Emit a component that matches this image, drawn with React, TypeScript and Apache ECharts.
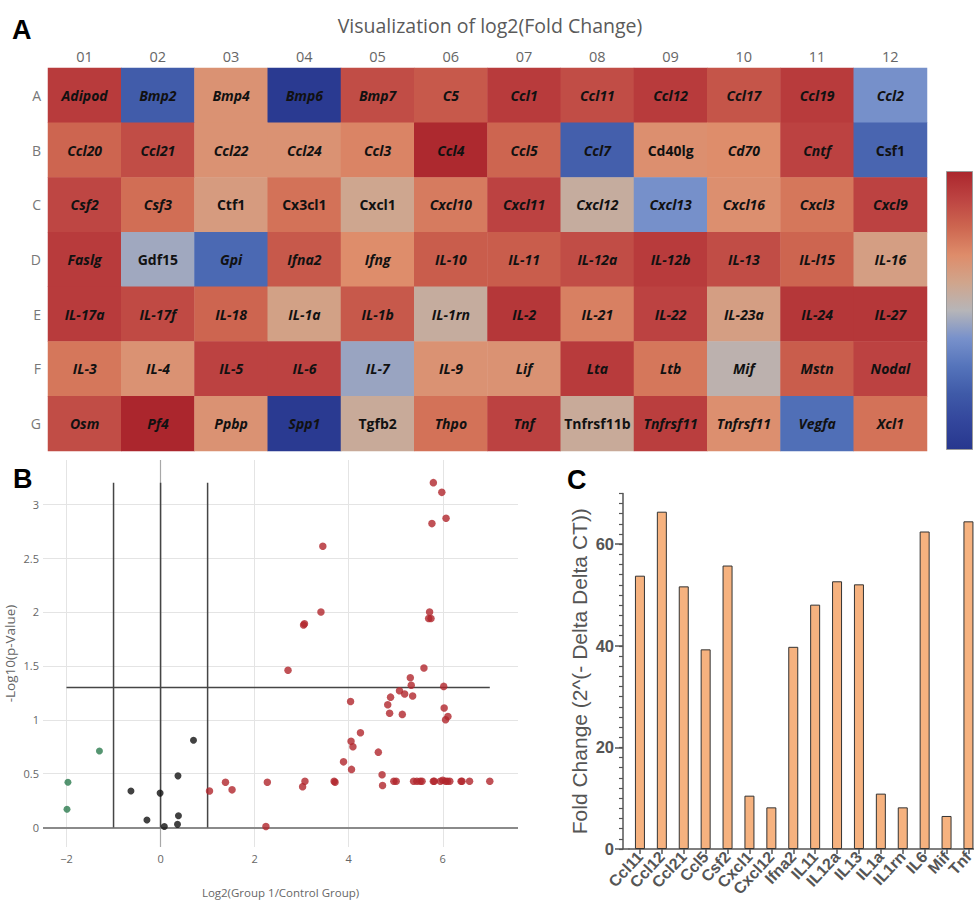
import React, { useEffect, useRef } from 'react';
import * as echarts from 'echarts';

// ---------- Panel A: heatmap data ----------
const columns = ['01', '02', '03', '04', '05', '06', '07', '08', '09', '10', '11', '12'];
const rows = ['A', 'B', 'C', 'D', 'E', 'F', 'G'];

const geneRows: string[][] = [
  ['Adipod', 'Bmp2', 'Bmp4', 'Bmp6', 'Bmp7', 'C5', 'Ccl1', 'Ccl11', 'Ccl12', 'Ccl17', 'Ccl19', 'Ccl2'],
  ['Ccl20', 'Ccl21', 'Ccl22', 'Ccl24', 'Ccl3', 'Ccl4', 'Ccl5', 'Ccl7', 'Cd40lg', 'Cd70', 'Cntf', 'Csf1'],
  ['Csf2', 'Csf3', 'Ctf1', 'Cx3cl1', 'Cxcl1', 'Cxcl10', 'Cxcl11', 'Cxcl12', 'Cxcl13', 'Cxcl16', 'Cxcl3', 'Cxcl9'],
  ['Faslg', 'Gdf15', 'Gpi', 'Ifna2', 'Ifng', 'IL-10', 'IL-11', 'IL-12a', 'IL-12b', 'IL-13', 'IL-l15', 'IL-16'],
  ['IL-17a', 'IL-17f', 'IL-18', 'IL-1a', 'IL-1b', 'IL-1rn', 'IL-2', 'IL-21', 'IL-22', 'IL-23a', 'IL-24', 'IL-27'],
  ['IL-3', 'IL-4', 'IL-5', 'IL-6', 'IL-7', 'IL-9', 'Lif', 'Lta', 'Ltb', 'Mif', 'Mstn', 'Nodal'],
  ['Osm', 'Pf4', 'Ppbp', 'Spp1', 'Tgfb2', 'Thpo', 'Tnf', 'Tnfrsf11b', 'Tnfrsf11', 'Tnfrsf11', 'Vegfa', 'Xcl1'],
];

const log2FCRowA = [6.4, 0.2, 4.2, -1.4, 5.9, 5.6, 6.4, 5.9, 6.4, 5.7, 6.4, 1.8];
const log2FCRowB = [5.3, 5.9, 4.2, 4.2, 4.6, 6.9, 5.3, 0.3, 4.3, 4.4, 6.2, 0.5];
const log2FCRowC = [6.1, 5.1, 3.9, 5.0, 3.5, 4.8, 6.2, 3.2, 1.8, 4.3, 4.9, 6.2];
const log2FCRowD = [6.4, 2.4, 0.6, 5.6, 4.4, 5.5, 5.5, 5.9, 6.4, 5.9, 5.3, 3.8];
const log2FCRowE = [6.4, 6.0, 5.3, 3.7, 5.6, 3.2, 6.5, 4.7, 6.2, 3.8, 6.5, 6.5];
const log2FCRowF = [4.9, 4.2, 6.2, 6.2, 2.3, 4.2, 4.2, 6.4, 4.9, 2.9, 5.5, 6.2];
const log2FCRowG = [5.9, 7.0, 4.2, -1.4, 3.3, 5.0, 6.2, 3.3, 6.3, 4.3, 0.8, 5.0];
const log2FCRows = [log2FCRowA, log2FCRowB, log2FCRowC, log2FCRowD, log2FCRowE, log2FCRowF, log2FCRowG];

const uprightGenes = ['Cd40lg', 'Csf1', 'Ctf1', 'Cx3cl1', 'Cxcl1', 'Gdf15', 'Tgfb2', 'Tnfrsf11b'];

const fcMin = -1.6;
const fcMax = 7.0;
const scaleColors = ['#27378e', '#33469c', '#3f5aa8', '#5574bb', '#7891cb', '#b6b5b8', '#d0a58c', '#de8c6a', '#cd6650', '#bd4442', '#ab262d'];

// ---------- Panel B: volcano data ----------
const downPoints: [number, number][] = [[-1.97, 0.42], [-1.99, 0.17], [-1.3, 0.71]];
const nsPoints: [number, number][] = [
  [-0.63, 0.34], [-0.29, 0.07], [-0.01, 0.32], [0.08, 0.01], [0.36, 0.03], [0.38, 0.11], [0.37, 0.48], [0.7, 0.81],
];
const upPoints: [number, number][] = [
  [1.04, 0.34], [1.38, 0.42], [1.52, 0.35], [2.24, 0.01], [2.27, 0.42], [2.71, 1.46], [3.02, 0.38], [3.07, 0.43],
  [3.04, 1.88], [3.06, 1.89], [3.41, 2.0], [3.45, 2.61], [3.69, 0.43], [3.71, 0.42], [3.89, 0.61], [4.04, 1.17],
  [4.05, 0.8], [4.09, 0.75], [4.06, 0.54], [4.25, 0.88], [4.63, 0.7], [4.71, 0.49], [4.72, 0.39], [4.83, 1.14],
  [4.87, 1.06], [4.89, 1.21], [4.96, 0.43], [5.01, 0.43], [5.08, 1.27], [5.14, 1.05], [5.19, 1.24], [5.31, 1.39],
  [5.33, 1.32], [5.36, 1.22], [5.38, 0.43], [5.45, 0.43], [5.52, 0.43], [5.56, 0.43], [5.6, 1.48], [5.72, 2.0],
  [5.7, 1.94], [5.75, 1.94], [5.77, 2.82], [5.8, 3.2], [5.8, 0.43], [5.82, 0.43], [5.98, 3.11], [6.07, 2.87],
  [6.02, 1.31], [6.03, 1.11], [6.06, 1.0], [6.11, 1.03], [5.95, 0.43], [6.0, 0.44], [6.06, 0.43], [6.1, 0.43],
  [6.15, 0.43], [6.39, 0.43], [6.41, 0.43], [6.57, 0.43], [7.0, 0.43],
];
const volcanoXTicks = [-2, 0, 2, 4, 6];
const volcanoYTicks = [0, 0.5, 1, 1.5, 2, 2.5, 3];
const foldThresholds = [-1, 0, 1];
const thresholdTop = 3.2;
const pThreshold = 1.3;
const pLineSpan = [-2, 7];

// ---------- Panel C: bar data ----------
const barGenes = ['Ccl11', 'Ccl12', 'Ccl21', 'Ccl5', 'Csf2', 'Cxcl1', 'Cxcl12', 'Ifna2', 'IL11', 'IL12a', 'IL13', 'IL1a', 'IL1rn', 'IL6', 'Mif', 'Tnf'];
const barFoldChange = [53.8, 66.4, 51.7, 39.3, 55.8, 10.5, 8.2, 39.8, 48.1, 52.7, 52.1, 10.9, 8.2, 62.5, 6.5, 64.5];
const barMajorTicks = [0, 20, 40, 60];

export default function App() {
  const ref = useRef<HTMLDivElement>(null);

  useEffect(() => {
    if (!ref.current) return;
    const chart = echarts.init(ref.current, null, { renderer: 'svg' });

    const heatData: any[] = [];
    log2FCRows.forEach((row, r) => {
      row.forEach((v, c) => {
        heatData.push({
          value: [c, r, v],
          label: { fontStyle: uprightGenes.includes(geneRows[r][c]) ? 'normal' : 'italic' },
        });
      });
    });

    const fmtMinus = (v: number) => (v < 0 ? '\u2212' + Math.abs(v) : String(v));

    const gridLineData: any[] = [
      ...volcanoXTicks.filter((v) => v !== 0).map((v) => ({ xAxis: v })),
      ...volcanoYTicks.filter((v) => v !== 0).map((v) => ({ yAxis: v })),
      { xAxis: 0, lineStyle: { color: '#a8a8a8', width: 1.2 } },
      { yAxis: 0, lineStyle: { color: '#8a8a8a', width: 2 } },
    ];

    const thresholdSeries = foldThresholds.map((xv) => ({
      type: 'line',
      xAxisIndex: 1,
      yAxisIndex: 1,
      data: [[xv, 0], [xv, thresholdTop]],
      symbol: 'none',
      silent: true,
      z: 4,
      lineStyle: { color: '#454545', width: 1.5 },
    }));

    const gradStops = scaleColors
      .map((c, i) => ({ offset: 1 - i / (scaleColors.length - 1), color: c }))
      .reverse();

    const option: any = {
      animation: false,
      textStyle: { fontFamily: 'Open Sans' },
      grid: [
        { left: 48, top: 68, width: 879, height: 383, outerBoundsMode: 'none' },
        { left: 43, top: 460, width: 475, height: 387, outerBoundsMode: 'none' },
        { left: 629, top: 493.4, width: 350.4, height: 355.6, outerBoundsMode: 'none' },
      ],
      visualMap: {
        type: 'continuous',
        show: false,
        min: fcMin,
        max: fcMax,
        seriesIndex: 0,
        dimension: 2,
        inRange: { color: scaleColors },
      },
      xAxis: [
        {
          gridIndex: 0,
          type: 'category',
          data: columns,
          position: 'top',
          axisLine: { show: false },
          axisTick: { show: false },
          splitLine: { show: false },
          axisLabel: { color: '#666', fontSize: 14.5, margin: 4, fontFamily: 'Open Sans' },
        },
        {
          gridIndex: 1,
          type: 'value',
          min: -2.5,
          max: 7.6,
          splitLine: { show: false },
          axisLine: { show: false },
          axisTick: { show: false },
          axisLabel: { customValues: volcanoXTicks, formatter: fmtMinus, color: '#666', fontSize: 11, margin: 6 },
          name: 'Log2(Group 1/Control Group)',
          nameLocation: 'middle',
          nameGap: 39,
          nameTextStyle: { color: '#666', fontSize: 11.5 },
        },
        {
          gridIndex: 2,
          type: 'category',
          data: barGenes,
          axisLine: { show: true, lineStyle: { color: '#555', width: 1.5 } },
          axisTick: { show: true, alignWithLabel: true, length: 5, lineStyle: { color: '#555', width: 1.5 } },
          axisLabel: {
            rotate: 47,
            interval: 0,
            color: '#555',
            fontWeight: 'bold',
            fontSize: 16,
            fontFamily: 'Liberation Sans',
            margin: 5,
          },
        },
      ],
      yAxis: [
        {
          gridIndex: 0,
          type: 'category',
          data: rows,
          inverse: true,
          axisLine: { show: false },
          axisTick: { show: false },
          splitLine: { show: false },
          axisLabel: { color: '#777', fontSize: 14, margin: 7, fontFamily: 'Open Sans' },
        },
        {
          gridIndex: 1,
          type: 'value',
          min: -0.18,
          max: 3.41,
          splitLine: { show: false },
          axisLine: { show: false },
          axisTick: { show: false },
          axisLabel: { customValues: volcanoYTicks, color: '#666', fontSize: 11, margin: 4 },
          name: '-Log10(p-Value)',
          nameLocation: 'middle',
          nameRotate: 90,
          nameGap: 26,
          nameTextStyle: { color: '#666', fontSize: 13.5 },
        },
        {
          gridIndex: 2,
          type: 'value',
          position: 'left',
          min: 0,
          max: 70,
          interval: 2,
          offset: 6,
          splitLine: { show: false },
          axisLine: { show: true, lineStyle: { color: '#555', width: 1.5 } },
          axisTick: { show: true, length: 4, lineStyle: { color: '#555', width: 1.2 } },
          axisLabel: { show: false },
        },
        {
          gridIndex: 2,
          type: 'value',
          position: 'left',
          min: 0,
          max: 70,
          offset: 6,
          splitLine: { show: false },
          axisLine: { show: false },
          axisTick: { show: true, length: 8, customValues: barMajorTicks, lineStyle: { color: '#555', width: 1.5 } },
          axisLabel: {
            customValues: barMajorTicks,
            color: '#555',
            fontWeight: 'bold',
            fontSize: 16.5,
            fontFamily: 'Liberation Sans',
            margin: 9,
          },
          name: 'Fold Change (2^(- Delta Delta CT))',
          nameLocation: 'middle',
          nameRotate: 90,
          nameGap: 33,
          nameTextStyle: { color: '#555', fontSize: 21, fontFamily: 'Liberation Sans' },
        },
      ],
      series: [
        {
          type: 'heatmap',
          xAxisIndex: 0,
          yAxisIndex: 0,
          data: heatData,
          itemStyle: { borderWidth: 0 },
          emphasis: { disabled: true },
          label: {
            show: true,
            formatter: (p: any) => geneRows[p.value[1]][p.value[0]],
            color: '#111',
            fontWeight: 'bold',
            fontSize: 14,
            fontFamily: 'Open Sans',
          },
        },
        {
          type: 'line',
          xAxisIndex: 1,
          yAxisIndex: 1,
          data: [],
          silent: true,
          z: 1,
          markLine: {
            z: 1,
            silent: true,
            symbol: ['none', 'none'],
            label: { show: false },
            lineStyle: { color: '#e4e4e4', width: 1, type: 'solid' },
            data: gridLineData,
          },
        },
        ...thresholdSeries,
        {
          type: 'line',
          xAxisIndex: 1,
          yAxisIndex: 1,
          data: [[pLineSpan[0], pThreshold], [pLineSpan[1], pThreshold]],
          symbol: 'none',
          silent: true,
          z: 4,
          lineStyle: { color: '#454545', width: 1.5 },
        },
        {
          type: 'scatter',
          xAxisIndex: 1,
          yAxisIndex: 1,
          data: downPoints,
          symbolSize: 7,
          z: 6,
          itemStyle: { color: '#2a7a4e' },
        },
        {
          type: 'scatter',
          xAxisIndex: 1,
          yAxisIndex: 1,
          data: nsPoints,
          symbolSize: 7,
          z: 6,
          itemStyle: { color: '#111' },
        },
        {
          type: 'scatter',
          xAxisIndex: 1,
          yAxisIndex: 1,
          data: upPoints,
          symbolSize: 7.5,
          z: 6,
          itemStyle: { color: '#b0252c' },
        },
        {
          type: 'bar',
          xAxisIndex: 2,
          yAxisIndex: 2,
          data: barFoldChange,
          barWidth: 10,
          itemStyle: { color: '#f6b27f', borderColor: '#333', borderWidth: 1 },
        },
      ],
      graphic: [
        {
          type: 'text',
          x: 490,
          y: 25,
          style: {
            text: 'Visualization of log2(Fold Change)',
            fill: '#5a5a5a',
            fontSize: 19.5,
            fontFamily: 'Open Sans',
            align: 'center',
            verticalAlign: 'middle',
          },
        },
        {
          type: 'text',
          x: 12,
          y: 30,
          style: { text: 'A', fill: '#000', fontSize: 27, fontWeight: 'bold', fontFamily: 'Liberation Sans', align: 'left', verticalAlign: 'middle' },
        },
        {
          type: 'text',
          x: 13,
          y: 479,
          style: { text: 'B', fill: '#000', fontSize: 27, fontWeight: 'bold', fontFamily: 'Liberation Sans', align: 'left', verticalAlign: 'middle' },
        },
        {
          type: 'text',
          x: 567,
          y: 480,
          style: { text: 'C', fill: '#000', fontSize: 27, fontWeight: 'bold', fontFamily: 'Liberation Sans', align: 'left', verticalAlign: 'middle' },
        },
        {
          type: 'rect',
          shape: { x: 946.5, y: 171.5, width: 26, height: 278 },
          style: {
            fill: new echarts.graphic.LinearGradient(0, 0, 0, 1, gradStops),
            stroke: '#9a9a9a',
            lineWidth: 1,
          },
        },
        {
          type: 'line',
          shape: { x1: 622.5, y1: 849, x2: 629.5, y2: 849 },
          style: { stroke: '#555', lineWidth: 1.5 },
        },
      ],
    };

    chart.setOption(option);
    return () => chart.dispose();
  }, []);

  return <div ref={ref} style={{ position: 'absolute', left: 0, top: 0, width: 974, height: 901 }} />;
}
